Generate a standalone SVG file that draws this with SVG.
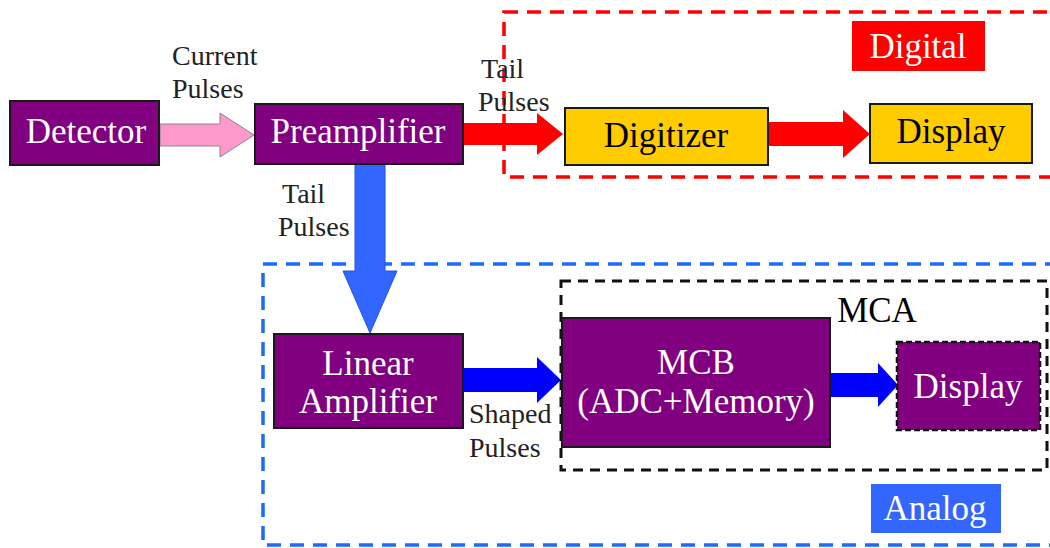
<svg xmlns="http://www.w3.org/2000/svg" width="1050" height="548" viewBox="0 0 1050 548">
<style>
.box{fill:#800080;stroke:#1a1a1a;stroke-width:2}
.ybox{fill:#ffcc00;stroke:#1a1a1a;stroke-width:2}
text{font-family:'Liberation Serif','Times New Roman',Tinos,'DejaVu Serif',serif}
.wt{fill:#fff;font-size:35px;text-anchor:middle}
.bt{fill:#000;font-size:35px;text-anchor:middle}
.lbl{fill:#222;font-size:28px}
</style>
<rect width="1050" height="548" fill="#fff"/>
<g id="groups">
<rect x="504" y="12" width="560" height="165" fill="none" stroke="#ff0000" stroke-width="3.5" stroke-dasharray="14,9"/>
<rect x="852" y="21" width="133" height="50" fill="#ff0000"/>
<text x="918" y="58" class="wt">Digital</text>
<rect x="263" y="264" width="800" height="281" fill="none" stroke="#1a6cff" stroke-width="3.5" stroke-dasharray="14,9"/>
<rect x="871" y="484" width="130" height="49" fill="#3366ff"/>
<text x="935" y="520" class="wt">Analog</text>
<rect x="561" y="281" width="486" height="189" fill="none" stroke="#111" stroke-width="3" stroke-dasharray="10,7"/>
<text x="877" y="322" class="bt">MCA</text>
</g>
<g id="connectors">
<polygon points="160,124 220,124 220,113 254,135 220,157 220,146 160,146" fill="#ff99cc" stroke="#888" stroke-width="1"/>
<polygon points="463,123 537,123 537,113 563,134 537,155 537,145 463,145" fill="#ff0000"/>
<polygon points="768,122 843,122 843,110 870,134 843,158 843,146 768,146" fill="#ff0000"/>
<polygon points="355,164 385,164 385,271 397,271 370,333 343,271 355,271" fill="#3366ff" stroke="#2255dd" stroke-width="1"/>
<polygon points="463,368 537,368 537,357 561,380 537,403 537,392 463,392" fill="#0000ff"/>
<polygon points="829,373 878,373 878,363 898,385 878,407 878,397 829,397" fill="#0000ff"/>
<text x="172" y="65" class="lbl">Current</text>
<text x="172" y="98" class="lbl">Pulses</text>
<text x="481" y="78" class="lbl">Tail</text>
<text x="478" y="111" class="lbl">Pulses</text>
<text x="282" y="203" class="lbl">Tail</text>
<text x="278" y="236" class="lbl">Pulses</text>
<text x="469" y="423" class="lbl">Shaped</text>
<text x="469" y="457" class="lbl">Pulses</text>
</g>
<g id="detector"><rect x="10" y="101" width="149" height="64" class="box"/><text x="86" y="143" class="wt">Detector</text></g>
<g id="preamplifier"><rect x="255" y="104" width="208" height="60" class="box"/><text x="358" y="143" class="wt">Preamplifier</text></g>
<g id="digitizer"><rect x="565" y="108" width="203" height="57" class="ybox"/><text x="666" y="147" class="bt">Digitizer</text></g>
<g id="display1"><rect x="870" y="104" width="162" height="59" class="ybox"/><text x="951" y="143" class="bt">Display</text></g>
<g id="linear-amplifier"><rect x="274" y="334" width="189" height="94" class="box"/><text x="368" y="375" class="wt">Linear</text><text x="368" y="413" class="wt">Amplifier</text></g>
<g id="mcb"><rect x="562" y="318" width="268" height="129" class="box"/><text x="696" y="374" class="wt">MCB</text><text x="696" y="413" class="wt">(ADC+Memory)</text></g>
<g id="display2"><rect x="897" y="342" width="143" height="88" fill="#800080" stroke="#111" stroke-width="2.5" stroke-dasharray="6,3"/><text x="968" y="398" class="wt">Display</text></g>
</svg>
